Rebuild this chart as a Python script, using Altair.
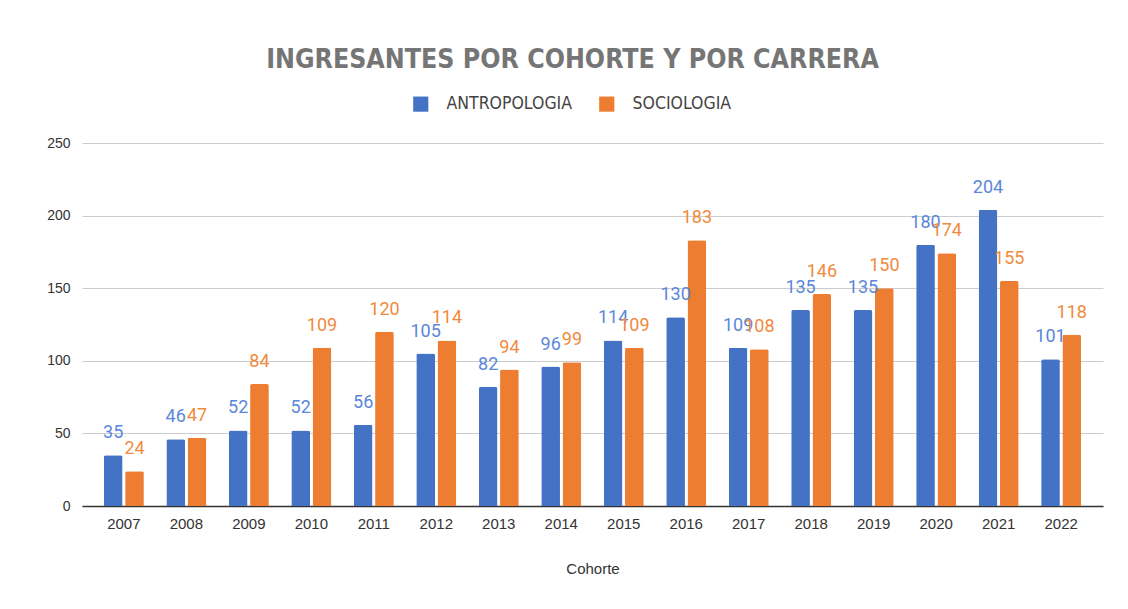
import altair as alt
import pandas as pd

years = [str(y) for y in range(2007, 2023)]
antropologia = [35, 46, 52, 52, 56, 105, 82, 96, 114, 130, 109, 135, 135, 180, 204, 101]
sociologia = [24, 47, 84, 109, 120, 114, 94, 99, 109, 183, 108, 146, 150, 174, 155, 118]
series = ["ANTROPOLOGIA", "SOCIOLOGIA"]
bar_colors = ["#4472C4", "#ED7D31"]
label_colors = ["#5B87DA", "#F08A3C"]

rows = []
for i, y in enumerate(years):
    rows.append({"Cohorte": y, "Carrera": series[0], "Valor": antropologia[i]})
    rows.append({"Cohorte": y, "Carrera": series[1], "Valor": sociologia[i]})
df = pd.DataFrame(rows)

x = alt.X("Cohorte:N", title="Cohorte", sort=years,
          scale=alt.Scale(paddingInner=0.36, paddingOuter=0.35),
          axis=alt.Axis(labelAngle=0, labelFontSize=15, labelColor="#333333",
                        labelFont="Liberation Sans", titleFont="Liberation Sans",
                        titleFontSize=15, titleFontWeight="normal", titleColor="#333333",
                        titlePadding=30, ticks=False, domainColor="#333333",
                        domainWidth=1.5, labelPadding=10, grid=False))
xo = alt.XOffset("Carrera:N", sort=series, scale=alt.Scale(paddingInner=0.12))
y = alt.Y("Valor:Q", title=None,
          scale=alt.Scale(domain=[0, 250]),
          axis=alt.Axis(values=[0, 50, 100, 150, 200, 250], labelFontSize=14,
                        labelColor="#333333", labelFont="Liberation Sans",
                        ticks=False, domain=False, gridColor="#CCCCCC",
                        labelPadding=12))
color = alt.Color("Carrera:N", sort=series,
                  scale=alt.Scale(domain=series, range=bar_colors),
                  legend=alt.Legend(title=None, orient="none", direction="horizontal",
                                    legendX=330, legendY=-48, symbolType="square",
                                    symbolSize=230, symbolStrokeWidth=0,
                                    labelFont="DejaVu Sans Condensed", labelFontSize=17.5,
                                    labelColor="#444444", labelOffset=17,
                                    columnPadding=25))

bars = alt.Chart(df).mark_bar(cornerRadiusTopLeft=2, cornerRadiusTopRight=2).encode(
    x=x, xOffset=xo, y=y, color=color)

labels = alt.Chart(df).mark_text(dy=-22, fontSize=18, font="Roboto").encode(
    x=x, xOffset=xo, y=y, text="Valor:Q",
    color=alt.Color("Carrera:N", sort=series,
                    scale=alt.Scale(domain=series, range=label_colors), legend=None))

chart = alt.layer(bars, labels).resolve_scale(color="independent").properties(
    width=1021, height=363,
    title=alt.TitleParams("INGRESANTES POR COHORTE Y POR CARRERA",
                          font="DejaVu Sans Condensed", fontSize=26.5, fontWeight="bold",
                          color="#757575", anchor="middle", dx=-20, offset=22),
    padding={"left": 74, "top": 135, "right": 17, "bottom": 70},
    autosize=alt.AutoSizeParams(type="none"),
).configure_view(stroke=None)

chart.save("out.html", embed_options={"renderer": "svg", "actions": False})
